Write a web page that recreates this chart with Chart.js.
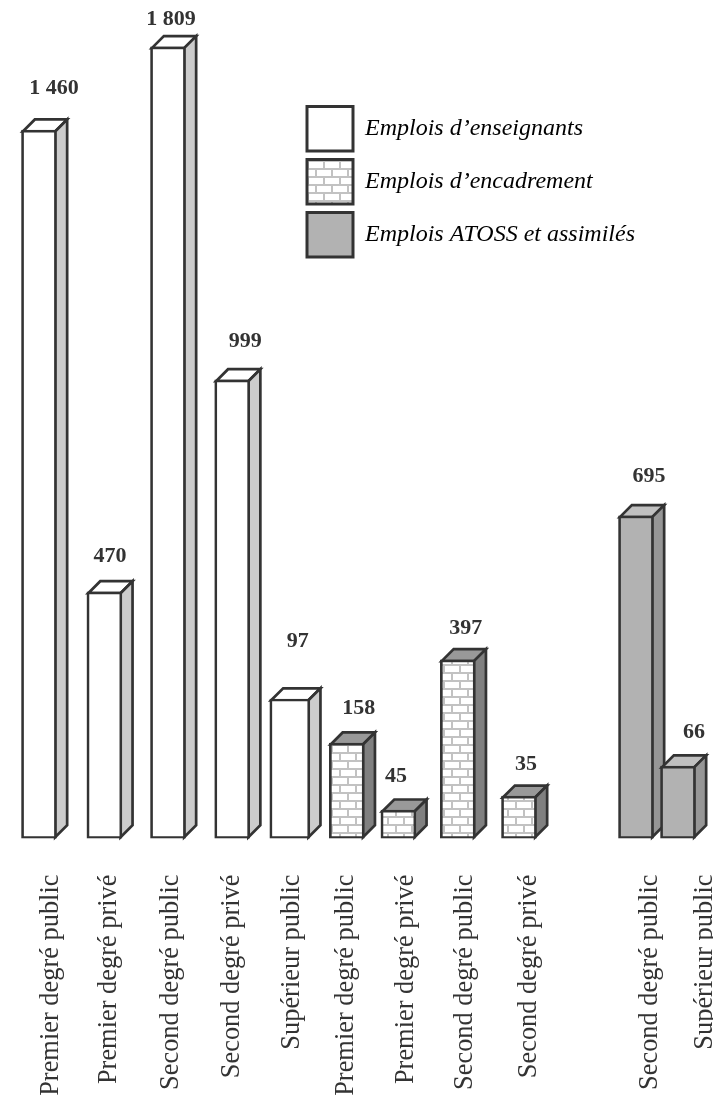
<!DOCTYPE html>
<html><head><meta charset="utf-8">
<style>html,body{margin:0;padding:0;background:#fff}canvas{display:block}</style>
<script src="https://cdn.jsdelivr.net/npm/chart.js@4"></script>
</head><body><canvas id="c" width="713" height="1099"></canvas>
<script>
// ---- data ----
const categories = ["Premier degré public","Premier degré privé","Second degré public","Second degré privé","Supérieur public",
  "Premier degré public","Premier degré privé","Second degré public","Second degré privé",
  "Second degré public","Supérieur public"];
const printedValues = ["1 460","470","1 809","999","97","158","45","397","35","695","66"];
// Heights as they are drawn in the picture (the source figure is not strictly proportional to its printed values)
const drawnHeights = [1574,548,1759,1019,310,212,63,397,94,717,161];
const seriesNames = ["Emplois d’enseignants","Emplois d’encadrement","Emplois ATOSS et assimilés"];
const seriesOfBar = [0,0,0,0,0,1,1,1,1,2,2];
// ---- layout (axis units), separate from data ----
const barSlots = [0,1.09,2.15,3.22,4.18,5.13,5.99,6.98,8,9.95,10.65];
const tickSlots = [0.195,1.162,2.2,3.212,4.217,5.112,6.117,7.095,8.162,10.183,11.1];
const wideBar = 4;
const labelDx = [15,5.5,3,13,8,12,-2.5,8,7,13,16];
const labelDy = [42,36,27,39,58,35,34,32,32,39,34];
const DEPTH = 12, INK = "#333333", LINE = 2.7;

function brickPattern(){
  const p=document.createElement("canvas");p.width=16;p.height=16;
  const g=p.getContext("2d");g.fillStyle="#ffffff";g.fillRect(0,0,16,16);
  g.fillStyle="#c2c2c2";
  g.fillRect(0,0,16,2);g.fillRect(0,8,16,2);
  g.fillRect(3,2,2,6);g.fillRect(11,10,2,6);
  return document.getElementById("c").getContext("2d").createPattern(p,"repeat");
}
const bricks = brickPattern();
const faces = [
  {front:"#ffffff",top:"#ffffff",side:"#cccccc"},
  {front:bricks,top:"#999999",side:"#808080"},
  {front:"#b2b2b2",top:"#c0c0c0",side:"#969696"}
];
function datasetFor(name,s,thick,pick){
  const idx=seriesOfBar.map((v,i)=>i).filter(pick);
  return {label:name,seriesIndex:s,barIndexes:idx,
    data:idx.map(i=>({x:barSlots[i],y:drawnHeights[i]})),
    backgroundColor:faces[s].front,borderColor:INK,borderWidth:LINE,borderSkipped:false,
    barThickness:thick,grouped:false};
}
const datasets=[
  datasetFor(seriesNames[0],0,35,i=>seriesOfBar[i]===0&&i!==wideBar),
  datasetFor(seriesNames[1],1,35,i=>seriesOfBar[i]===1),
  datasetFor(seriesNames[2],2,35,i=>seriesOfBar[i]===2),
  datasetFor(seriesNames[0]+" ",0,40,i=>i===wideBar)
];
const depthPlugin={id:"depth",
  afterLayout(chart){
    const l=chart.legend;
    l.left=298.5;l.top=98;l.right=700;l.bottom=500;l.width=401.5;l.height=402;
  },
  beforeDatasetsDraw(chart){
    const c=chart.ctx;c.save();c.lineWidth=LINE;c.strokeStyle=INK;c.lineJoin="miter";
    const m=LINE/2;
    chart.data.datasets.forEach((ds,d)=>{
      chart.getDatasetMeta(d).data.forEach(el=>{
        const p=el.getProps(["x","y","base","width"],true);
        const L=p.x-p.width/2+m,R=p.x+p.width/2-m,T=p.y+m,B=p.base-m;
        const f=faces[ds.seriesIndex];
        c.fillStyle=f.top;c.beginPath();c.moveTo(L,T);c.lineTo(L+DEPTH,T-DEPTH);c.lineTo(R+DEPTH,T-DEPTH);c.lineTo(R,T);c.closePath();c.fill();c.stroke();
        c.fillStyle=f.side;c.beginPath();c.moveTo(R,T);c.lineTo(R+DEPTH,T-DEPTH);c.lineTo(R+DEPTH,B-DEPTH);c.lineTo(R,B);c.closePath();c.fill();c.stroke();
      });
    });
    c.restore();
  },
  afterDatasetsDraw(chart){
    const c=chart.ctx;c.save();c.fillStyle=INK;c.font="bold 22px 'Liberation Serif'";c.textAlign="center";c.textBaseline="middle";
    chart.data.datasets.forEach((ds,d)=>{
      chart.getDatasetMeta(d).data.forEach((el,k)=>{
        const i=ds.barIndexes[k],p=el.getProps(["x","y"],true);
        c.fillText(printedValues[i],p.x+labelDx[i],p.y-labelDy[i]);
      });
    });
    c.restore();
  }
};
new Chart(document.getElementById("c"),{
  type:"bar",
  data:{datasets},
  plugins:[depthPlugin],
  options:{
    responsive:false,animation:false,devicePixelRatio:1,
    layout:{padding:0},
    plugins:{
      tooltip:{enabled:false},title:{display:false},
      legend:{display:true,position:"chartArea",align:"start",
        labels:{boxWidth:46,boxHeight:44.5,padding:8.5,color:INK,
          font:{family:"'Liberation Serif'",size:24,style:"italic"},
          generateLabels:()=>seriesNames.map((n,s)=>({text:n,fillStyle:faces[s].front,strokeStyle:INK,lineWidth:3,hidden:false,datasetIndex:s}))
        }}
    },
    scales:{
      x:{type:"linear",min:-0.65,max:11.2333,offset:false,
        grid:{display:false,drawTicks:false},border:{display:false},
        afterBuildTicks(s){s.ticks=tickSlots.map(v=>({value:v}));},
        afterFit(s){s.height=260.5;s.paddingLeft=0;s.paddingRight=0;},
        ticks:{autoSkip:false,minRotation:90,maxRotation:90,padding:36,color:INK,
          font:{family:"'Liberation Serif'",size:26.4},
          callback:(v,i)=>categories[i]}
      },
      y:{display:false,min:0,max:1863}
    }
  }
});
</script></body></html>
